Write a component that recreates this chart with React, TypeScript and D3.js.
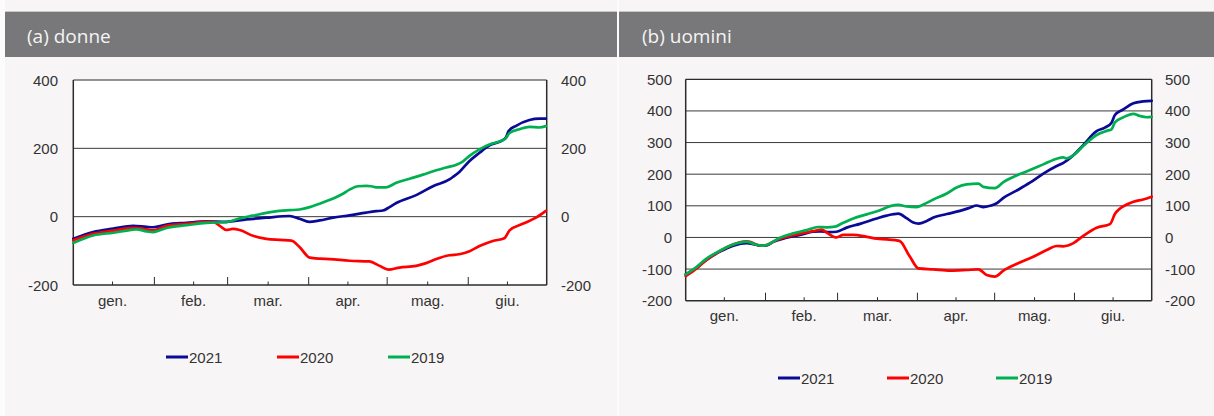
import React from 'react';
import * as d3 from 'd3';

type Pt = [number, number];

const monthLabels = ['gen.', 'feb.', 'mar.', 'apr.', 'mag.', 'giu.'];
const monthMidDays = [15, 46, 74.5, 105, 135.5, 166];
const monthEndDays = [31, 59, 90, 120, 151];
const seriesNames = ['2021', '2020', '2019'];
const seriesColors = ['#0a0a96', '#ff0000', '#00b050'];

const donneTicks = [-200, 0, 200, 400];
const uominiTicks = [-200, -100, 0, 100, 200, 300, 400, 500];

const donne2021: Pt[] = [[0,-65],[7.6,-45],[15.3,-35],[22.9,-27],[28,-30],[30.5,-31],[35.6,-23],[43.3,-18],[50.9,-14],[58.5,-15],[66.2,-8],[73.8,-3],[82.7,2],[86.5,-6],[90.2,-15],[94.2,-11],[99.3,-3],[105.6,4],[112,12],[115.8,16],[118.4,18],[120.9,28],[123.5,40],[131.1,63],[137.5,89],[143.8,109],[145.1,116],[147.6,131],[151.5,163],[155.3,187],[159.1,209],[164.2,224],[165.4,232],[166.5,251],[169.3,266],[174.4,283],[178.2,287],[180.7,287]];
const donne2020: Pt[] = [[0,-69],[7.6,-50],[15.3,-41],[22.9,-33],[28,-37],[30.5,-40],[35.6,-27],[43.3,-21],[50.9,-15],[53.5,-15],[56,-27],[58.5,-39],[61,-36],[63.6,-39],[68.7,-56],[73.8,-65],[78.9,-68],[83.4,-70],[86.5,-89],[90.4,-120],[94.2,-123],[98,-124],[105.6,-129],[113.2,-131],[117.1,-144],[120.5,-155],[124.7,-149],[131.1,-144],[134.9,-136],[138.8,-124],[143.8,-113],[147.6,-110],[151.5,-101],[155.3,-86],[160.4,-71],[164.8,-63],[166.8,-40],[171.8,-21],[176.9,-3],[180.7,17]];
const donne2019: Pt[] = [[0,-77],[7.6,-55],[15.3,-47],[22.9,-38],[24.2,-37],[28,-43],[30.5,-45],[35.6,-33],[43.3,-25],[50.9,-18],[58.5,-16],[63.6,-5],[68.7,3],[73.8,11],[78.9,17],[82.7,19],[86.5,21],[90.4,28],[94.2,38],[99.3,53],[103.1,67],[105.6,79],[108.8,89],[112,90],[113.9,89],[115.8,86],[119.6,86],[123.5,99],[128.6,111],[133.7,123],[138.8,136],[142.6,144],[146.5,152],[149,162],[151.5,178],[155.3,197],[159.1,211],[162.9,220],[165.2,228],[166.8,245],[170.6,256],[174.4,263],[178.2,261],[180.7,265]];

const uomini2021: Pt[] = [[0,-117],[4.3,-95],[8.2,-70],[13.3,-45],[18.5,-26],[23.7,-18],[26.3,-21],[28.9,-26],[31.5,-25],[34,-14],[39.2,-1],[44.4,8],[49.6,18],[52.2,19],[56,17],[58.6,18],[62.5,31],[67.7,43],[74.2,60],[78.1,69],[82.6,75],[85.8,61],[88.4,47],[90.4,44],[93.6,52],[96.2,63],[101.4,74],[106.5,84],[110.4,94],[113,101],[115.6,96],[118.2,100],[120.8,108],[123.4,125],[128.5,148],[133.7,173],[138.9,202],[144.1,226],[146.7,236],[150.6,260],[154.4,292],[159.6,336],[162.8,347],[165.4,363],[166.7,387],[170,405],[173.9,424],[177.7,430],[181,432]];
const uomini2020: Pt[] = [[0,-122],[4.3,-98],[8.2,-70],[13.3,-43],[18.5,-22],[23.7,-12],[25,-14],[28.9,-26],[31.5,-24],[35.3,-8],[39.2,2],[44.4,12],[49.6,20],[52.8,25],[54.8,15],[58.6,0],[61.2,8],[65.1,8],[70.3,2],[74.2,-4],[78.1,-6],[83,-11],[87.1,-61],[90.4,-98],[96.2,-101],[102.7,-105],[109.1,-103],[113.7,-101],[116.9,-119],[120.1,-124],[123.4,-105],[128.5,-84],[135,-61],[140.2,-40],[144.1,-27],[146.7,-28],[150.6,-18],[154.4,5],[159.6,31],[164.8,42],[166.7,74],[171.3,104],[173.9,113],[177.7,120],[181,129]];
const uomini2019: Pt[] = [[0,-117],[4.3,-93],[8.2,-66],[13.3,-42],[18.5,-22],[23.7,-13],[26.3,-20],[30.2,-26],[32.8,-19],[36.6,-1],[41.8,13],[47,23],[51.5,33],[54.8,32],[58,34],[60.6,44],[65.1,60],[70.3,73],[75.5,86],[79.4,99],[82.6,103],[85.8,98],[89.7,96],[92.3,104],[96.2,120],[101.4,139],[105.2,158],[109.1,168],[113.7,170],[115.6,160],[120.1,156],[123.4,175],[128.5,196],[133.7,213],[138.9,231],[144.1,249],[146.7,253],[148,250],[150.6,260],[154.4,289],[159.6,324],[163.5,337],[165.4,342],[166.7,364],[170,380],[173.9,391],[176.4,384],[179,380],[181,381]];

const FONT = '"Liberation Sans", Arial, sans-serif';

interface PanelProps {
  title: string;
  panelX: number;
  panelW: number;
  titleX: number;
  px0: number; px1: number; py0: number; py1: number;
  domain: [number, number];
  ticks: number[];
  leftLabelX: number;
  rightLabelX: number;
  xLabelY: number;
  legendY: number;
  legendXs: number[];
  series: Pt[][];
}

function Panel(p: PanelProps) {
  const x = d3.scaleLinear().domain([0, 181]).range([p.px0, p.px1]);
  const y = d3.scaleLinear().domain(p.domain).range([p.py1, p.py0]);
  const line = d3.line<Pt>().x(d => x(d[0])).y(d => y(d[1])).curve(d3.curveMonotoneX);
  const inner = p.ticks.filter(t => t > p.domain[0] && t < p.domain[1]);
  const c = '#2b2b2b';
  return (
    <g>
      <rect x={p.panelX} y={0} width={p.panelW} height={416} fill="#f8f5f6" />
      <rect x={p.panelX} y={11} width={p.panelW} height={1} fill="#c9c9c9" />
      <rect x={p.panelX} y={12} width={p.panelW} height={45} fill="#78787a" />
      <text x={p.titleX} y={43} fill="#f4f4f4" fontFamily='"Open Sans", sans-serif' fontSize={19}>{p.title}</text>
      <rect x={p.px0} y={p.py0} width={p.px1 - p.px0} height={p.py1 - p.py0} fill="#ffffff" />
      {inner.map(t => (
        <line key={t} x1={p.px0} x2={p.px1} y1={y(t)} y2={y(t)} stroke="#3a3a3a" strokeWidth={1} />
      ))}
      <line x1={p.px0} x2={p.px1} y1={p.py0} y2={p.py0} stroke={c} strokeWidth={1.2} />
      <line x1={p.px0} x2={p.px1} y1={p.py1} y2={p.py1} stroke={c} strokeWidth={1.5} />
      <line x1={p.px0} x2={p.px0} y1={p.py0} y2={p.py1} stroke={c} strokeWidth={1.5} />
      <line x1={p.px1} x2={p.px1} y1={p.py0} y2={p.py1} stroke={c} strokeWidth={1.5} />
      {monthEndDays.map(d => (
        <line key={'e' + d} x1={x(d)} x2={x(d)} y1={p.py1} y2={p.py1 - 8} stroke={c} strokeWidth={1} />
      ))}
      {monthMidDays.map(d => (
        <line key={'m' + d} x1={x(d)} x2={x(d)} y1={p.py1} y2={p.py1 - 3.5} stroke={c} strokeWidth={1} />
      ))}
      {p.series.map((s, i) => (
        <path key={i} d={line(s) || ''} fill="none" stroke={seriesColors[i]} strokeWidth={2.7} strokeLinejoin="round" strokeLinecap="round" />
      ))}
      {p.ticks.map(t => (
        <g key={'l' + t}>
          <text x={p.leftLabelX} y={y(t) + 5.5} textAnchor="end" fontFamily={FONT} fontSize={15} fill="#333">{t}</text>
          <text x={p.rightLabelX} y={y(t) + 5.5} textAnchor="start" fontFamily={FONT} fontSize={15} fill="#333">{t}</text>
        </g>
      ))}
      {monthLabels.map((m, i) => (
        <text key={m} x={x(monthMidDays[i])} y={p.xLabelY} textAnchor="middle" fontFamily={FONT} fontSize={15} fill="#333">{m}</text>
      ))}
      {seriesNames.map((n, i) => (
        <g key={n}>
          <line x1={p.legendXs[i]} x2={p.legendXs[i] + 22} y1={p.legendY} y2={p.legendY} stroke={seriesColors[i]} strokeWidth={3} />
          <text x={p.legendXs[i] + 23} y={p.legendY + 5.5} fontFamily={FONT} fontSize={15} fill="#333">{n}</text>
        </g>
      ))}
    </g>
  );
}

export default function App() {
  return (
    <svg width={1214} height={416} style={{ position: 'absolute', left: 0, top: 0 }}>
      <rect x={0} y={0} width={1214} height={416} fill="#fdfcfc" />
      <Panel
        title="(a) donne" panelX={5} panelW={612} titleX={27}
        px0={73.3} px1={546.7} py0={80} py1={285}
        domain={[-200, 400]} ticks={donneTicks}
        leftLabelX={58} rightLabelX={561} xLabelY={306}
        legendY={357} legendXs={[166, 277, 388]}
        series={[donne2021, donne2020, donne2019]}
      />
      <Panel
        title="(b) uomini" panelX={619} panelW={595} titleX={642}
        px0={685.7} px1={1151.7} py0={79.3} py1={300.7}
        domain={[-200, 500]} ticks={uominiTicks}
        leftLabelX={672} rightLabelX={1165} xLabelY={321}
        legendY={378} legendXs={[778, 887, 996]}
        series={[uomini2021, uomini2020, uomini2019]}
      />
    </svg>
  );
}
